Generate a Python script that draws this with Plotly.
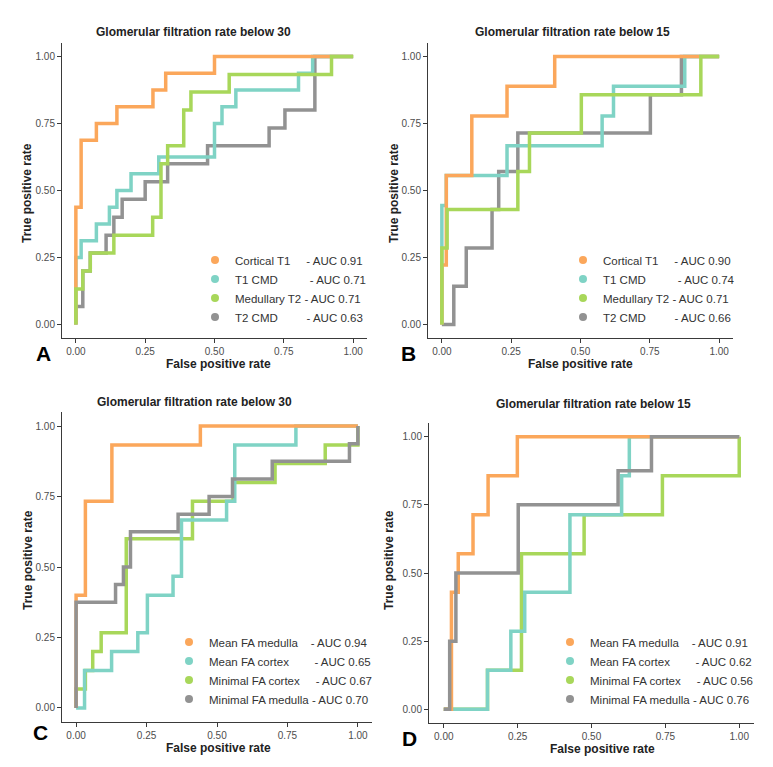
import plotly.graph_objects as go

# ---------------- Data ----------------
# Panel A: GFR below 30 (T1 / T2 measures)
a_title = "Glomerular filtration rate below 30"
a_names = ["Cortical T1", "T1 CMD", "Medullary T2", "T2 CMD"]
a_auc = ["0.91", "0.71", "0.71", "0.63"]
a_pad = [5, 10, 1, 9]
a_cortical_t1_fpr = [0, 0, 0.019, 0.074, 0.148, 0.278, 0.324, 0.5, 1]
a_cortical_t1_tpr = [0, 0.4375, 0.6875, 0.75, 0.8125, 0.875, 0.9375, 1, 1]
a_t1_cmd_fpr = [0, 0, 0.019, 0.074, 0.121, 0.148, 0.199, 0.299, 0.5, 0.527, 0.577, 0.803, 0.854, 1]
a_t1_cmd_tpr = [0, 0.25, 0.3125, 0.375, 0.4375, 0.5, 0.5625, 0.625, 0.75, 0.8125, 0.875, 0.9375, 1, 1]
a_medullary_t2_fpr = [0, 0, 0.025, 0.052, 0.137, 0.277, 0.307, 0.331, 0.389, 0.415, 0.553, 0.922, 1]
a_medullary_t2_tpr = [0, 0.133, 0.2, 0.267, 0.333, 0.4, 0.6, 0.667, 0.8, 0.867, 0.933, 1, 1]
a_t2_cmd_fpr = [0, 0, 0.025, 0.052, 0.109, 0.137, 0.167, 0.25, 0.331, 0.475, 0.697, 0.754, 0.862, 1]
a_t2_cmd_tpr = [0, 0.067, 0.2, 0.267, 0.333, 0.4, 0.467, 0.533, 0.6, 0.667, 0.733, 0.8, 1, 1]

# Panel B: GFR below 15 (T1 / T2 measures)
b_title = "Glomerular filtration rate below 15"
b_names = ["Cortical T1", "T1 CMD", "Medullary T2", "T2 CMD"]
b_auc = ["0.90", "0.74", "0.71", "0.66"]
b_pad = [5, 10, 1, 9]
b_cortical_t1_fpr = [0, 0, 0.016, 0.108, 0.235, 0.407, 1]
b_cortical_t1_tpr = [0, 0.222, 0.556, 0.778, 0.889, 1, 1]
b_t1_cmd_fpr = [0, 0, 0.016, 0.235, 0.578, 0.619, 0.876, 1]
b_t1_cmd_tpr = [0, 0.444, 0.556, 0.667, 0.778, 0.889, 1, 1]
b_medullary_t2_fpr = [0, 0, 0.019, 0.274, 0.316, 0.503, 0.934, 1]
b_medullary_t2_tpr = [0, 0.286, 0.429, 0.571, 0.714, 0.857, 1, 1]
b_t2_cmd_fpr = [0, 0.043, 0.088, 0.181, 0.205, 0.274, 0.752, 0.864, 1]
b_t2_cmd_tpr = [0, 0.143, 0.286, 0.429, 0.571, 0.714, 0.857, 1, 1]

# Panel C: GFR below 30 (FA measures)
c_title = "Glomerular filtration rate below 30"
c_names = ["Mean FA medulla", "Mean FA cortex", "Minimal FA cortex", "Minimal FA medulla"]
c_auc = ["0.94", "0.65", "0.67", "0.70"]
c_pad = [4, 8, 5, 1]
c_mean_fa_medulla_fpr = [0, 0, 0.033, 0.127, 0.441, 1]
c_mean_fa_medulla_tpr = [0, 0.4, 0.733, 0.933, 1, 1]
c_mean_fa_cortex_fpr = [0, 0.03, 0.126, 0.219, 0.253, 0.344, 0.374, 0.534, 0.563, 0.78, 1]
c_mean_fa_cortex_tpr = [0, 0.133, 0.2, 0.267, 0.4, 0.467, 0.667, 0.733, 0.933, 1, 1]
c_minimal_fa_cortex_fpr = [0, 0, 0.033, 0.059, 0.089, 0.178, 0.413, 0.557, 0.706, 0.884, 1]
c_minimal_fa_cortex_tpr = [0, 0.067, 0.133, 0.2, 0.267, 0.6, 0.733, 0.8, 0.867, 0.933, 1]
c_minimal_fa_medulla_fpr = [0, 0, 0.14, 0.168, 0.193, 0.362, 0.472, 0.555, 0.696, 0.97, 1]
c_minimal_fa_medulla_tpr = [0, 0.375, 0.4375, 0.5, 0.625, 0.6875, 0.75, 0.8125, 0.875, 0.9375, 1]

# Panel D: GFR below 15 (FA measures)
d_title = "Glomerular filtration rate below 15"
d_names = ["Mean FA medulla", "Mean FA cortex", "Minimal FA cortex", "Minimal FA medulla"]
d_auc = ["0.91", "0.62", "0.56", "0.76"]
d_pad = [4, 8, 5, 1]
d_mean_fa_medulla_fpr = [0, 0.026, 0.049, 0.099, 0.15, 0.249, 1]
d_mean_fa_medulla_tpr = [0, 0.429, 0.571, 0.714, 0.857, 1, 1]
d_mean_fa_cortex_fpr = [0, 0.148, 0.227, 0.274, 0.427, 0.602, 0.628, 1]
d_mean_fa_cortex_tpr = [0, 0.143, 0.286, 0.429, 0.714, 0.857, 1, 1]
d_minimal_fa_cortex_fpr = [0, 0.148, 0.263, 0.475, 0.74, 1]
d_minimal_fa_cortex_tpr = [0, 0.143, 0.571, 0.714, 0.857, 1]
d_minimal_fa_medulla_fpr = [0, 0.02, 0.041, 0.252, 0.59, 0.703, 1]
d_minimal_fa_medulla_tpr = [0, 0.25, 0.5, 0.75, 0.875, 1, 1]

tick_vals = [0, 0.25, 0.5, 0.75, 1]
tick_text = ["0.00", "0.25", "0.50", "0.75", "1.00"]
x_label = "False positive rate"
y_label = "True positive rate"
panel_letters = ["A", "B", "C", "D"]

# ---------------- Styling ----------------
W, H = 773, 767
COLORS = ["#FBA75B", "#7FD3C5", "#A8D75A", "#929292"]
FONT = "Liberation Sans, Arial, Helvetica, sans-serif"

panels = [
    dict(title=a_title, names=a_names, auc=a_auc, pad=a_pad,
         curves=[(a_cortical_t1_fpr, a_cortical_t1_tpr), (a_t1_cmd_fpr, a_t1_cmd_tpr),
                 (a_medullary_t2_fpr, a_medullary_t2_tpr), (a_t2_cmd_fpr, a_t2_cmd_tpr)],
         order=[3, 1, 0, 2],
         box=(62, 367, 43, 338), title_xy=(193, 32), xlab_xy=(218, 363.5), ylab_xy=(27, 193),
         letter_xy=(43, 353), legend_xy=(235, 288.5)),
    dict(title=b_title, names=b_names, auc=b_auc, pad=b_pad,
         curves=[(b_cortical_t1_fpr, b_cortical_t1_tpr), (b_t1_cmd_fpr, b_t1_cmd_tpr),
                 (b_medullary_t2_fpr, b_medullary_t2_tpr), (b_t2_cmd_fpr, b_t2_cmd_tpr)],
         order=[3, 1, 0, 2],
         box=(428, 733, 43, 338), title_xy=(572, 32), xlab_xy=(580, 363.5), ylab_xy=(394, 193),
         letter_xy=(408, 353), legend_xy=(603, 288.5)),
    dict(title=c_title, names=c_names, auc=c_auc, pad=c_pad,
         curves=[(c_mean_fa_medulla_fpr, c_mean_fa_medulla_tpr), (c_mean_fa_cortex_fpr, c_mean_fa_cortex_tpr),
                 (c_minimal_fa_cortex_fpr, c_minimal_fa_cortex_tpr), (c_minimal_fa_medulla_fpr, c_minimal_fa_medulla_tpr)],
         order=[2, 1, 0, 3],
         box=(62, 372, 412, 722), title_xy=(195, 402), xlab_xy=(218, 747.5), ylab_xy=(28, 560),
         letter_xy=(40, 732), legend_xy=(209, 670.5)),
    dict(title=d_title, names=d_names, auc=d_auc, pad=d_pad,
         curves=[(d_mean_fa_medulla_fpr, d_mean_fa_medulla_tpr), (d_mean_fa_cortex_fpr, d_mean_fa_cortex_tpr),
                 (d_minimal_fa_cortex_fpr, d_minimal_fa_cortex_tpr), (d_minimal_fa_medulla_fpr, d_minimal_fa_medulla_tpr)],
         order=[2, 1, 0, 3],
         box=(429, 754, 423, 723), title_xy=(593, 404), xlab_xy=(602, 749), ylab_xy=(389, 560),
         letter_xy=(409, 738), legend_xy=(590, 670.5)),
]


def px(x):
    return x / W


def py(y):
    return 1 - y / H


fig = go.Figure()
layout = dict(
    width=W, height=H, margin=dict(l=0, r=0, t=0, b=0),
    paper_bgcolor="white", plot_bgcolor="white",
    font=dict(family=FONT, size=12, color="#333333"),
    annotations=[],
)

for i, p in enumerate(panels):
    k = "" if i == 0 else str(i + 1)
    xa, ya = "x" + k, "y" + k
    leg = "legend" + k
    x0, x1, yt, yb = p["box"]
    axis_common = dict(
        range=[-0.05, 1.05], showgrid=False, zeroline=False, showline=True,
        linecolor="#3a3a3a", linewidth=1, ticks="outside", ticklen=4, tickwidth=1,
        tickcolor="#3a3a3a", tickvals=tick_vals, ticktext=tick_text,
        tickfont=dict(family=FONT, size=10, color="#4d4d4d"), fixedrange=True,
    )
    layout["xaxis" + k] = dict(axis_common, domain=[px(x0), px(x1)], anchor=ya)
    layout["yaxis" + k] = dict(axis_common, domain=[py(yb), py(yt)], anchor=xa)

    # curves (drawn in stacking order)
    for j in p["order"]:
        fx, fy = p["curves"][j]
        fig.add_trace(go.Scatter(
            x=fx, y=fy, mode="lines", line=dict(color=COLORS[j], width=3.5, shape="hv"),
            xaxis=xa, yaxis=ya, showlegend=False,
            name=p["names"][j], hoverinfo="skip",
        ))
    # legend entries (legend order)
    for j, nm in enumerate(p["names"]):
        label = nm + "\u00a0" * p["pad"][j] + "- AUC " + p["auc"][j]
        fig.add_trace(go.Scatter(
            x=[None], y=[None], mode="markers",
            marker=dict(color=COLORS[j], size=8, symbol="circle"),
            name=label, legend=leg,
            xaxis=xa, yaxis=ya, showlegend=True,
        ))
    lx, lymid = p["legend_xy"]
    layout[leg] = dict(
        x=px(lx - 40), xanchor="left", y=py(lymid), yanchor="middle",
        bgcolor="rgba(0,0,0,0)", borderwidth=0, tracegroupgap=0,
        font=dict(family=FONT, size=11.5, color="#333333"),
        itemclick=False, itemdoubleclick=False,
    )

    tx, ty = p["title_xy"]
    layout["annotations"].append(dict(
        text=p["title"], x=px(tx), y=py(ty), xref="paper", yref="paper",
        xanchor="center", yanchor="middle", showarrow=False,
        font=dict(family=FONT, size=12, color="#222222", weight="bold")))
    bx, by = p["xlab_xy"]
    layout["annotations"].append(dict(
        text=x_label, x=px(bx), y=py(by), xref="paper", yref="paper",
        xanchor="center", yanchor="middle", showarrow=False,
        font=dict(family=FONT, size=12, color="#222222", weight="bold")))
    vx, vy = p["ylab_xy"]
    layout["annotations"].append(dict(
        text=y_label, x=px(vx), y=py(vy), xref="paper", yref="paper",
        xanchor="center", yanchor="middle", showarrow=False, textangle=-90,
        font=dict(family=FONT, size=12, color="#222222", weight="bold")))
    lx2, ly2 = p["letter_xy"]
    layout["annotations"].append(dict(
        text=panel_letters[i], x=px(lx2), y=py(ly2), xref="paper", yref="paper",
        xanchor="center", yanchor="middle", showarrow=False,
        font=dict(family=FONT, size=21, color="#000000", weight="bold")))

fig.update_layout(**layout)
# remove the browser's default 8px page margin so the figure sits at the window origin
fig.write_html("out.html", config={"displayModeBar": False},
               post_script="document.body.style.margin='0px';")
